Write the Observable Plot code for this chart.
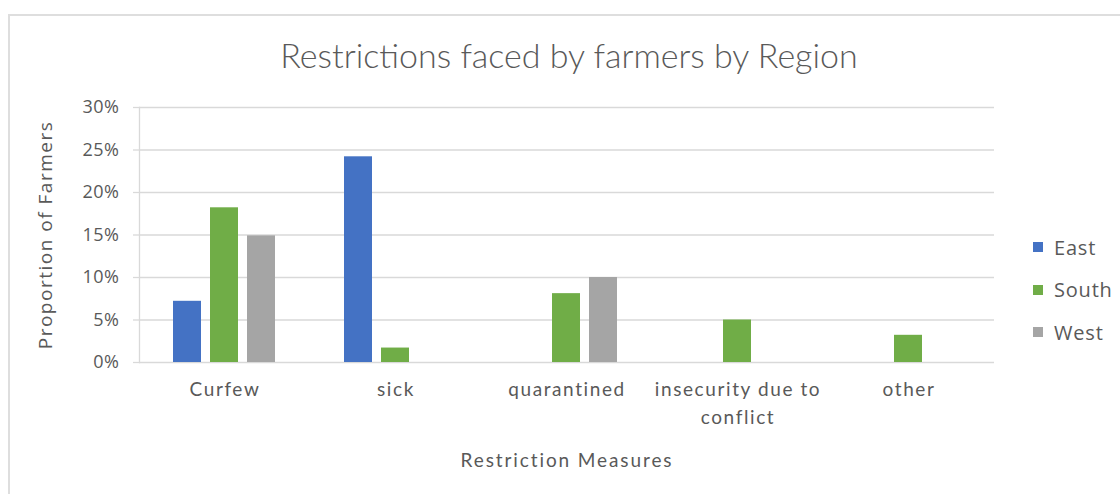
<!DOCTYPE html>
<html>
<head>
<meta charset="utf-8">
<script src="https://cdn.jsdelivr.net/npm/d3@7"></script>
<script src="https://cdn.jsdelivr.net/npm/@observablehq/plot@0.6"></script>
<style>
  html, body { margin: 0; padding: 0; background: #fff; }
  #chart { position: relative; width: 1120px; height: 494px; overflow: hidden; background: #fff; }
  #border { position: absolute; left: 8px; top: 14px; width: 1200px; height: 600px; border: 2px solid #dedede; box-sizing: border-box; }
  #title { position: absolute; left: 0; top: 32px; width: 1138px; text-align: center; line-height: 46px;
           font-family: "Lato", "Open Sans", sans-serif; font-weight: 300; font-size: 34px; color: #595959; }
  #legend { position: absolute; left: 1033px; top: 0; font-family: "Open Sans", sans-serif; font-size: 20px; letter-spacing: 0.8px; color: #595959; }
  .item { position: absolute; left: 0; white-space: nowrap; display: flex; align-items: center; height: 24px; }
  .swatch { width: 10px; height: 10px; margin-right: 11px; }
  #plot { position: absolute; left: 0; top: 0; }
  #plot g[aria-label="fx-axis tick label"] { font-family: "Lato", "Open Sans", sans-serif; letter-spacing: 1.6px; font-size: 19px; }
  #plot g[aria-label="fx-axis label"] { font-family: "Lato", "Open Sans", sans-serif; letter-spacing: 1.9px; font-size: 19px; }
  #plot g[aria-label="y-axis tick label"] { letter-spacing: 0.5px; }
  #plot g[aria-label="y-axis label"] { letter-spacing: 1.5px; font-size: 19px; }
</style>
</head>
<body>
<div id="chart">
  <div id="border"></div>
  <div id="title"></div>
  <div id="plot"></div>
  <div id="legend"></div>
</div>
<script>
// Share of farmers reporting each restriction, by region
const categories = ["Curfew", "sick", "quarantined", "insecurity due to conflict", "other"];
const categoryLabels = ["Curfew", "sick", "quarantined", "insecurity due to\nconflict", "other"];
const regions = ["East", "South", "West"];
const east  = [0.072, 0.242, null, null, null];
const south = [0.182, 0.017, 0.081, 0.050, 0.032];
const west  = [0.149, null, 0.100, null, null];
const regionColors = ["#4472C4", "#70AD47", "#A5A5A5"];
const yTicks = [0, 0.05, 0.10, 0.15, 0.20, 0.25, 0.30];

const titleText = "Restrictions faced by farmers by Region";
const yLabel = "Proportion of Farmers";
const xLabel = "Restriction Measures";

// long-format table for the grouped bars
const series = [east, south, west];
const rows = [];
regions.forEach((region, j) => {
  categories.forEach((cat, i) => {
    const v = series[j][i];
    if (v != null) rows.push({category: cat, region, value: v});
  });
});

document.getElementById("title").textContent = titleText;

const chart = Plot.plot({
  width: 1120,
  height: 494,
  marginLeft: 138,
  marginRight: 126,
  marginTop: 107,
  marginBottom: 132,
  style: {fontFamily: "Open Sans, sans-serif", fontSize: "18px", color: "#595959", background: "transparent"},
  fx: {domain: categories, padding: 0},
  x: {domain: regions, paddingInner: 0.237, paddingOuter: 0.87, axis: null},
  y: {domain: [0, 0.3]},
  color: {domain: regions, range: regionColors},
  marks: [
    Plot.gridY(yTicks, {stroke: "#d9d9d9", strokeOpacity: 1, strokeWidth: 1.3}),
    Plot.frame({anchor: "left", fx: "Curfew", stroke: "#d9d9d9", strokeWidth: 1.3}),
    Plot.axisY({
      ticks: yTicks,
      tickFormat: d3.format(".0%"),
      tickSize: 6,
      tickPadding: 14,
      stroke: "#d9d9d9",
      strokeWidth: 1.3,
      label: yLabel,
      labelAnchor: "center",
      labelArrow: "none",
      labelOffset: 101,
      fontSize: 18
    }),
    Plot.axisFx({
      anchor: "bottom",
      tickSize: 0,
      tickPadding: 13,
      lineHeight: 1.5,
      tickFormat: d => categoryLabels[categories.indexOf(d)],
      label: xLabel,
      labelAnchor: "center",
      labelArrow: "none",
      labelOffset: 104,
      fontSize: 19
    }),
    Plot.barY(rows, {fx: "category", x: "region", y: "value", fill: "region"})
  ]
});
document.getElementById("plot").appendChild(chart);

// vertical legend to the right of the plot
const legend = d3.select("#legend");
regions.forEach((r, i) => {
  const item = legend.append("div").attr("class", "item").style("top", (235 + i * 42.5) + "px");
  item.append("div").attr("class", "swatch").style("background", regionColors[i]);
  item.append("span").text(r);
});
</script>
</body>
</html>
